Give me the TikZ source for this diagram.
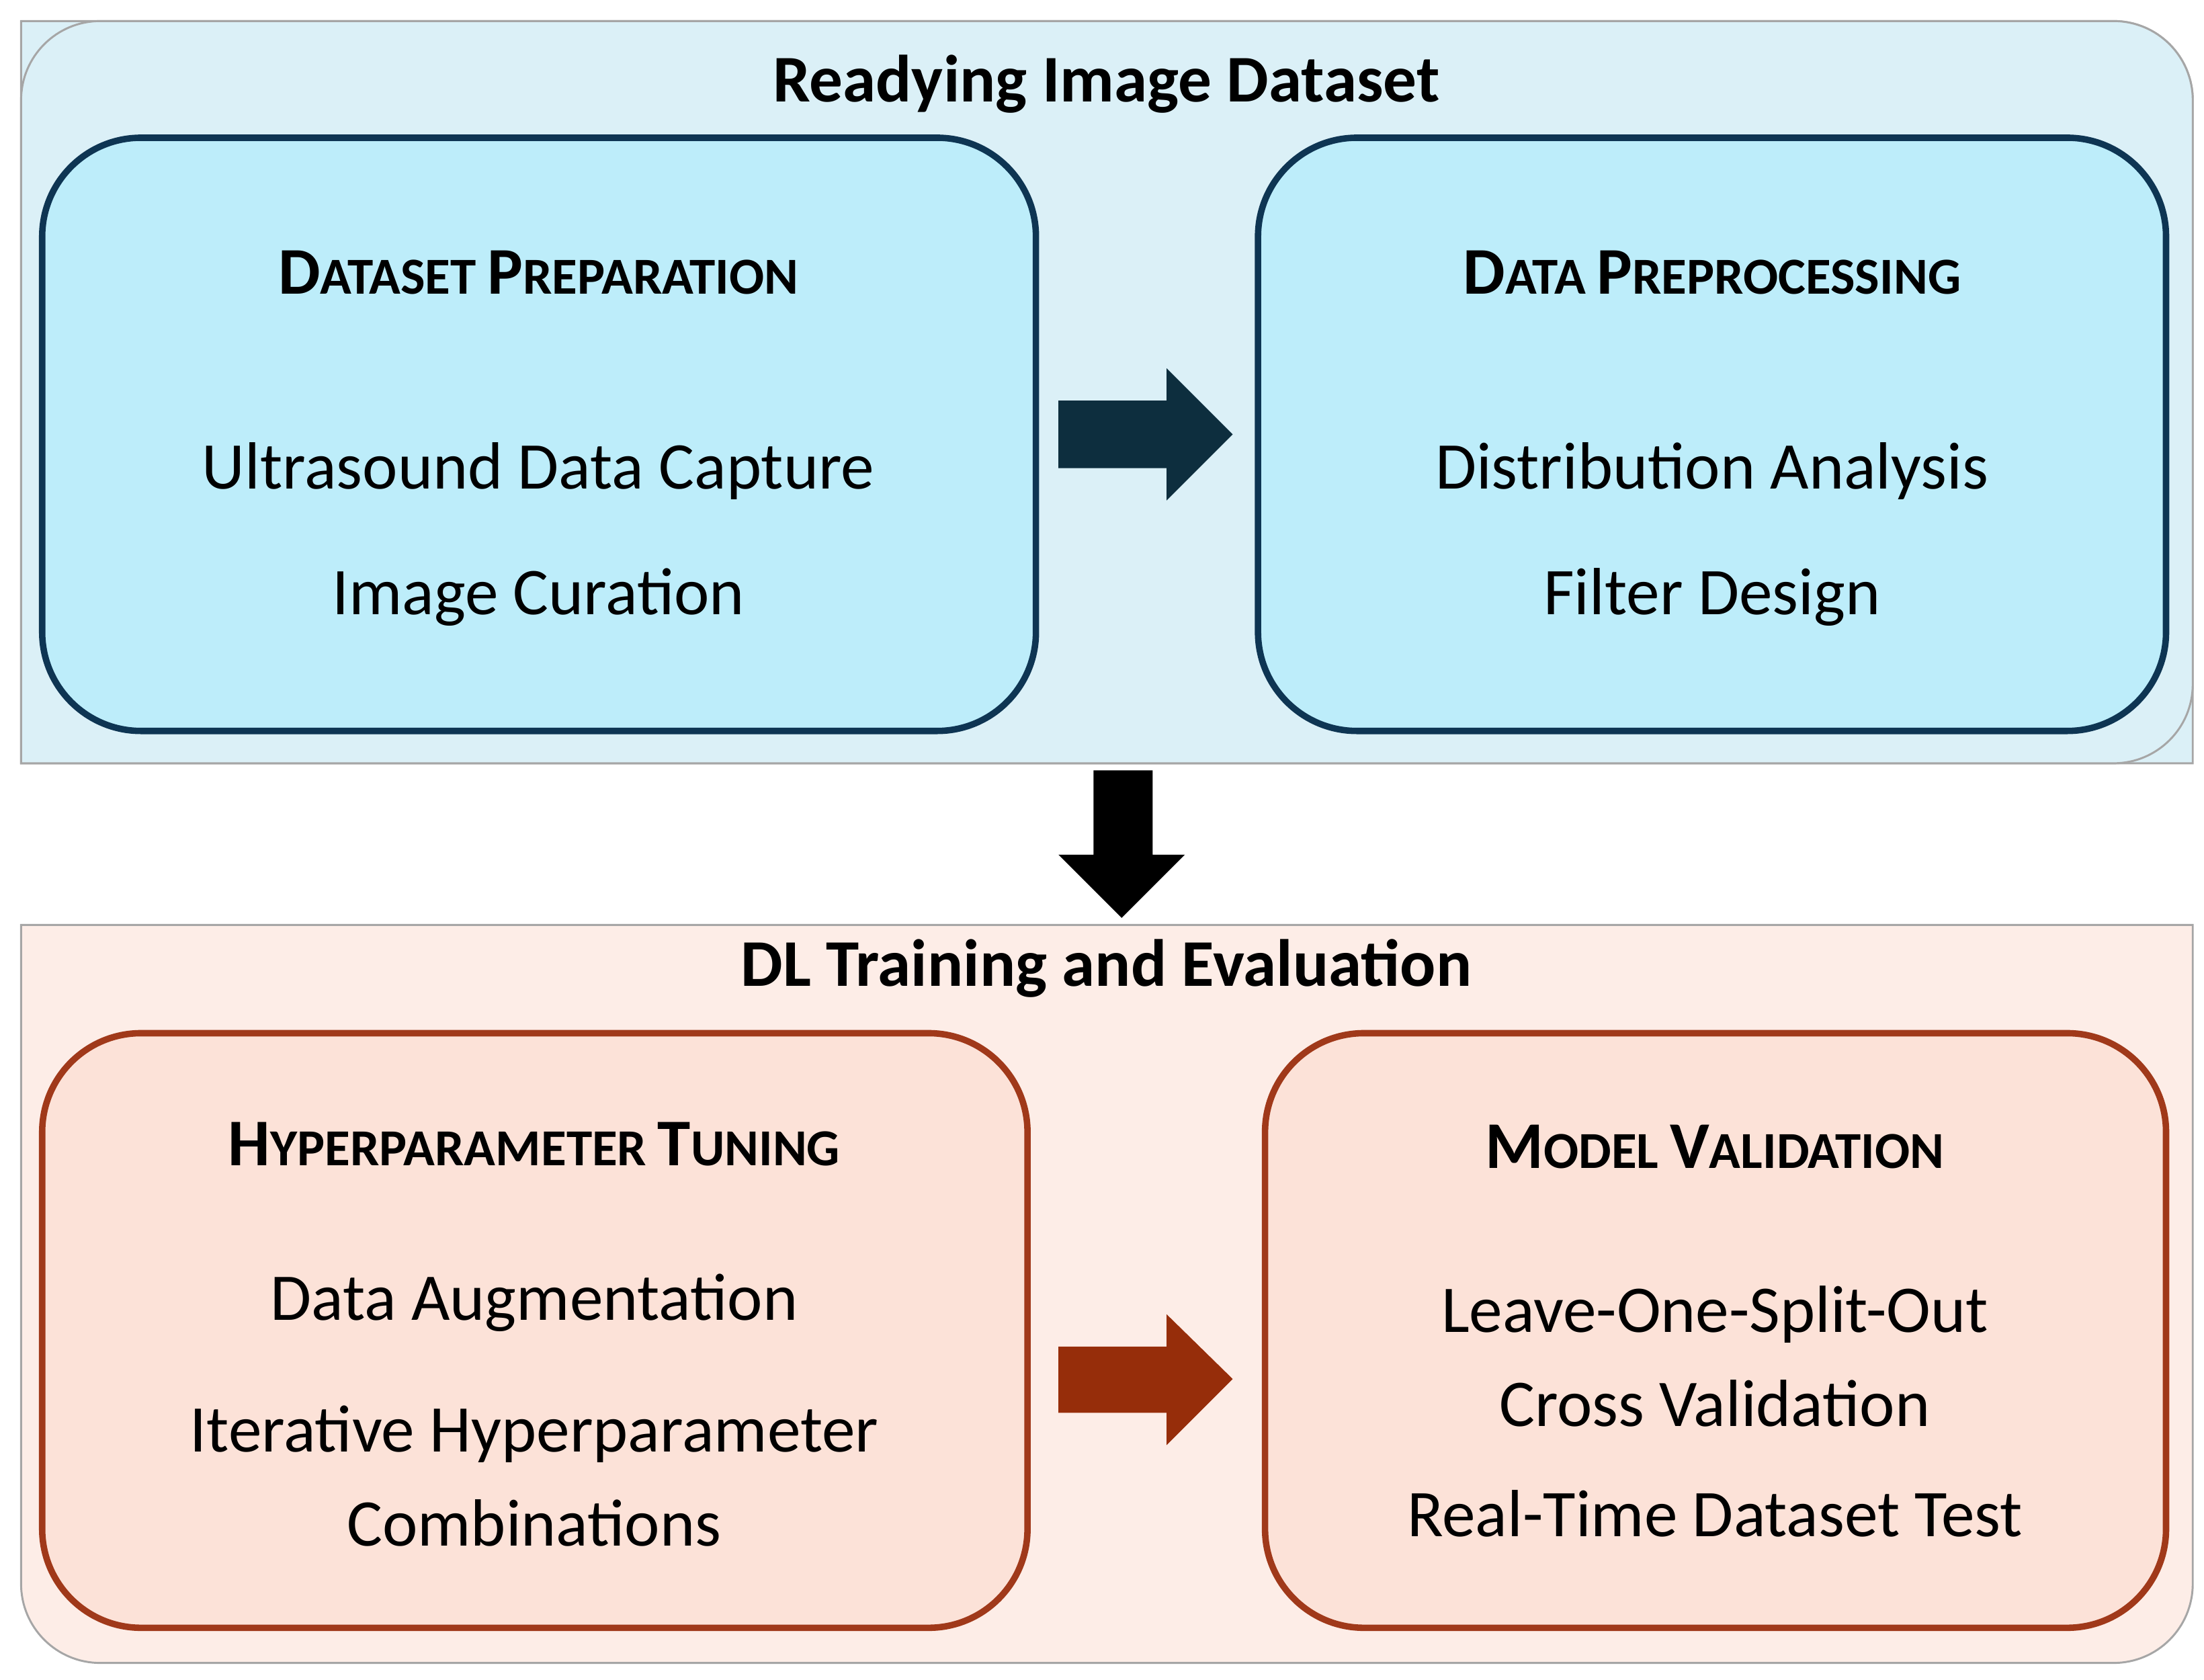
\documentclass[tikz,border=0pt]{standalone}
\usepackage{fontspec}
\setmainfont{Carlito}
\usetikzlibrary{positioning}
\definecolor{panelblue}{HTML}{DBF0F7}
\definecolor{boxblue}{HTML}{BDEDFA}
\definecolor{navy}{HTML}{0E3553}
\definecolor{arrowblue}{HTML}{0D2E3E}
\definecolor{panelpeach}{HTML}{FDEDE7}
\definecolor{boxpeach}{HTML}{FCE2D8}
\definecolor{rust}{HTML}{A0391A}
\definecolor{arrowrust}{HTML}{962D0A}
\newcommand{\hd}[2]{{\fontsize{13.5}{16}\selectfont\bfseries #1}{\fontsize{10.5}{13}\selectfont\bfseries #2}}
\tikzset{
  stage/.style={rounded corners=20pt, line width=1.3pt},
  title/.style={font=\fontsize{13.5}{16}\selectfont\bfseries},
  item/.style={font=\fontsize{13.5}{17}\selectfont, align=center}
}
\begin{document}
\begin{tikzpicture}[x=0.01cm,y=-0.01cm]
\useasboundingbox (0,0) rectangle (1568,1195);

% Top panel
\draw[gray!70,fill=panelblue] (15,543) -- (15,15) [rounded corners=16pt] -- (1560,15) [sharp corners] -- (1560,543) -- cycle;
\path[draw=gray!70,fill=panelblue,rounded corners=16pt] (15,543) -- (15,15) -- (1560,15) -- (1560,543) [sharp corners] -- cycle;
\node[title] (toptitle) at (787,60) {Readying Image Dataset};

\draw[stage,draw=navy,fill=boxblue] (30,98) rectangle (737,520);
\draw[stage,draw=navy,fill=boxblue] (895,98) rectangle (1541,520);
\node (prep) at (383,194) {\hd{D}{ATASET} \hd{P}{REPARATION}};
\node[item] (capture) at (383,335) {Ultrasound Data Capture};
\node[item] (curation) at (383,425) {Image Curation};
\node (preproc) at (1218,194) {\hd{D}{ATA} \hd{P}{REPROCESSING}};
\node[item] (distrib) at (1218,335) {Distribution Analysis};
\node[item] (filter) at (1218,425) {Filter Design};

% Block arrows
\fill[arrowblue] (753,285) -- (830,285) -- (830,262) -- (877,309) -- (830,356) -- (830,333) -- (753,333) -- cycle;
\fill[black] (778,548) -- (820,548) -- (820,608) -- (843,608) -- (798,653) -- (753,608) -- (778,608) -- cycle;

% Bottom panel
\path[draw=gray!70,fill=panelpeach,rounded corners=16pt] (15,658) [sharp corners] -- (1560,658) [rounded corners=16pt] -- (1560,1183) -- (15,1183) [sharp corners] -- cycle;
\node[title] (bottitle) at (787,689) {DL Training and Evaluation};

\draw[stage,draw=rust,fill=boxpeach] (30,735) rectangle (731,1158);
\draw[stage,draw=rust,fill=boxpeach] (900,735) rectangle (1541,1158);
\node (tuning) at (380,814) {\hd{H}{YPERPARAMETER} \hd{T}{UNING}};
\node[item] (augment) at (380,927) {Data Augmentation};
\node[item] (iterative) at (380,1050) {Iterative Hyperparameter\\[2pt]Combinations};
\node (valid) at (1220,816) {\hd{M}{ODEL} \hd{V}{ALIDATION}};
\node[item] (loso) at (1220,965) {Leave-One-Split-Out\\[2pt]Cross Validation};
\node[item] (realtime) at (1220,1077) {Real-Time Dataset Test};

\fill[arrowrust] (753,958) -- (830,958) -- (830,935) -- (877,981) -- (830,1028) -- (830,1005) -- (753,1005) -- cycle;
\end{tikzpicture}
\end{document}
